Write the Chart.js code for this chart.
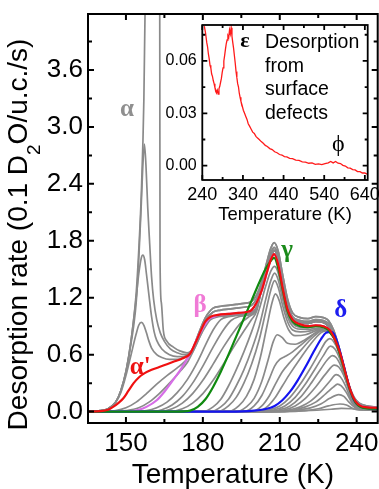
<!DOCTYPE html>
<html>
<head>
<meta charset="utf-8">
<script src="https://cdn.jsdelivr.net/npm/chart.js@4.4.1/dist/chart.umd.min.js"></script>
<style>
  html, body { margin: 0; padding: 0; background: #fff; }
  #wrap { position: relative; width: 379px; height: 489px; }
  #main { position: absolute; left: 0; top: 0; }
  #inset { position: absolute; left: 160px; top: 20px; }
</style>
</head>
<body>
<div id="wrap">
  <canvas id="main" width="379" height="489"></canvas>
  <canvas id="inset" width="219" height="210"></canvas>
</div>
<script>
// Tick values
const xTicks = [150, 180, 210, 240];
const xMinorTicks = [165, 195, 225];
const yTicks = [0, 0.6, 1.2, 1.8, 2.4, 3.0, 3.6];
const yMinorTicks = [0.3, 0.9, 1.5, 2.1, 2.7, 3.3, 3.9];

const insetXTicks = [240, 340, 440, 540, 640];
const insetXMinorTicks = [290, 390, 490, 590];
const insetYTicks = [0, 0.03, 0.06];
const insetYMinorTicks = [0.015, 0.045, 0.075];

// --- Main panel curves, [temperature K, rate] ---
// alpha family (multilayer peaks)
const alphaA = [[135,0],[140,0.01],[143,0.03],[146,0.1],[148,0.2],[150,0.38],[152,0.6],[154,0.82],[155,0.91],[156,0.94],[157,0.91],[158,0.83],[159,0.74],[160,0.67],[162,0.6],[164,0.57],[167,0.55],[170,0.55],[173,0.58]];
const alphaB = [[135,0],[140,0.01],[143,0.03],[146,0.1],[148,0.22],[150,0.42],[152,0.75],[154,1.2],[155,1.45],[156,1.62],[156.6,1.65],[157.3,1.6],[158,1.45],[159,1.22],[160,1.0],[161,0.84],[162,0.75],[164,0.66],[167,0.6],[170,0.58],[173,0.58]];
const alphaC = [[135,0],[140,0.01],[143,0.03],[146,0.1],[148,0.22],[150,0.42],[152,0.72],[153,0.9],[154,1.15],[155,1.6],[156,2.2],[156.7,2.65],[157.2,2.82],[157.8,2.6],[158.5,2.15],[159.2,1.8],[160,1.42],[160.8,1.18],[162,0.97],[163.4,0.83],[165,0.74],[167.3,0.66],[170,0.62],[173,0.6]];
const alphaD = [[135,0],[140,0.01],[143,0.03],[146,0.1],[148,0.22],[150,0.42],[152,0.75],[154,1.25],[155,1.7],[156,2.3],[157,3.3],[157.5,4.3],[158.5,5.2],[160,6.4],[162,7.6],[163,8.0],[163.3,1.6],[163.8,1.15],[164.6,0.85],[166,0.74],[168.5,0.68],[171,0.64],[173.8,0.62]];
const tailHi = [[176,0.66],[178,0.8],[181,0.99],[184,1.09],[187,1.11],[190,1.12],[193,1.13],[196,1.14],[199,1.16],[201,1.23],[203,1.37],[205,1.58],[206.5,1.72],[207.8,1.78],[209.5,1.68],[211,1.46],[213,1.19],[215,1.04],[218,0.99],[221,0.98],[224,1.0],[227,0.99],[229,0.96],[231,0.86],[233,0.69],[235,0.48],[237,0.28],[239,0.15],[241,0.09],[244,0.06],[248,0.045]];
const tailLo = [[176,0.64],[178,0.77],[181,0.96],[184,1.05],[187,1.07],[190,1.08],[193,1.09],[196,1.1],[199,1.12],[201,1.19],[203,1.33],[205,1.53],[206.5,1.67],[207.8,1.73],[209.5,1.63],[211,1.41],[213,1.14],[215,1.0],[218,0.96],[221,0.95],[224,0.97],[227,0.96],[229,0.93],[231,0.84],[233,0.67],[235,0.47],[237,0.27],[239,0.14],[241,0.08],[244,0.05],[248,0.04]];

// alpha' (red) and beta (magenta) share the plateau part
const alphaPrimeHead = [[135,0],[140,0.005],[143,0.02],[145,0.05],[147,0.09],[149,0.14],[151,0.22],[153,0.3],[155,0.36],[157,0.4],[160,0.44],[163,0.47],[166,0.5],[169,0.53],[172,0.56],[175,0.61],[177,0.72],[179,0.84],[181,0.95],[183,1.0]];
const betaHead = [[135,0],[150,0],[155,0.02],[158,0.05],[162,0.12],[165,0.21],[168,0.32],[171,0.43],[174,0.56],[176,0.66],[178,0.78],[180,0.88],[182.5,0.98],[184.5,1.0]];
const plateauTail = [[186,1.02],[190,1.03],[194,1.04],[197,1.05],[199,1.07],[201,1.15],[203,1.28],[205,1.47],[206.5,1.6],[207.8,1.66],[209.5,1.54],[211,1.32],[213,1.08],[215,0.97],[218,0.92],[221,0.9],[224,0.91],[227,0.9],[229.5,0.86],[231.5,0.76],[233.5,0.62],[235.5,0.42],[237.5,0.23],[239.5,0.11],[241.5,0.06],[244,0.045],[248,0.04]];

// gamma (green) and delta (blue)
const gammaHead = [[135,0],[170,0],[175,0.01],[178,0.05],[181,0.13],[184,0.26],[187,0.42],[190,0.6],[193,0.79],[196,0.98],[199,1.17],[202,1.36],[204,1.48],[206,1.57],[207.8,1.62],[209.5,1.5],[211,1.3],[213,1.06],[215,0.95],[218,0.9],[221,0.89],[224,0.9],[227,0.89],[229,0.86]];
const deltaCurve = [[135,0],[190,0],[200,0.01],[205,0.03],[208,0.06],[211,0.12],[214,0.21],[217,0.33],[220,0.47],[223,0.62],[226,0.76],[228,0.83],[230,0.84],[231.5,0.8],[233,0.68],[235,0.48],[237,0.27],[239,0.12],[241,0.06],[244,0.04],[248,0.03]];
const deltaTail = [[230,0.82],[231.5,0.76],[233.5,0.6],[235.5,0.41],[237.5,0.22],[239.5,0.1],[241.5,0.05],[244,0.035],[248,0.03]];

// gray curves rising into the beta plateau
const gTail = [[203,1.3],[205,1.5],[206.5,1.63],[207.8,1.7],[209.5,1.6],[211,1.38],[213,1.12],[215,0.99],[218,0.94],[221,0.93],[224,0.95],[227,0.94],[229,0.9],[231,0.82],[233,0.67],[235,0.47],[237,0.27],[239,0.13],[241,0.07],[244,0.05],[248,0.04]];
const grayBeta = [
  [[135,0],[140,0],[146,0.01],[150,0.04],[154,0.1],[158,0.19],[162,0.29],[166,0.38],[170,0.46],[173,0.53],[176,0.63],[179,0.8],[182,0.96],[185,1.0],[190,1.01],[195,1.03],[199,1.05],[201,1.1]],
  [[135,0],[145,0],[150,0.01],[155,0.04],[159,0.1],[163,0.19],[167,0.3],[171,0.42],[174,0.52],[177,0.68],[180,0.85],[183,0.97],[186,1.0],[190,1.01],[195,1.03],[199,1.05],[201,1.1]],
  [[135,0],[150,0],[158,0.01],[162,0.04],[166,0.1],[170,0.2],[174,0.34],[178,0.53],[181,0.7],[184,0.86],[187,0.97],[190,1.0],[195,1.02],[199,1.04],[201,1.1]],
  [[135,0],[160,0],[164,0.02],[168,0.07],[172,0.16],[176,0.3],[180,0.48],[184,0.68],[188,0.86],[191,0.96],[194,1.0],[199,1.03],[201,1.1]],
  [[135,0],[163,0],[168,0.03],[172,0.09],[176,0.19],[180,0.33],[184,0.5],[188,0.68],[192,0.84],[195,0.94],[198,1.0],[201,1.08]],
  [[135,0],[167,0],[172,0.03],[176,0.09],[180,0.19],[184,0.33],[188,0.5],[192,0.68],[196,0.85],[199,0.97],[201,1.06]]
];

// gray curves between gamma and delta
const grayGamma = [
  [[135,0],[180,0],[184,0.05],[187,0.13],[190,0.27],[193,0.44],[196,0.63],[199,0.84],[202,1.08],[204.5,1.32],[206.5,1.48],[208,1.53],[209.5,1.45],[211,1.25],[213,1.03],[215,0.93],[218,0.89],[222,0.89],[225,0.9],[228,0.87]],
  [[135,0],[183,0],[187,0.05],[190,0.13],[193,0.27],[196,0.44],[199,0.65],[202,0.9],[204.5,1.18],[206.5,1.38],[208,1.46],[209.5,1.38],[211,1.2],[213,1.0],[215,0.9],[218,0.87],[222,0.87],[225,0.88],[228,0.86]],
  [[135,0],[186,0],[190,0.06],[193,0.15],[196,0.3],[199,0.5],[202,0.76],[204.5,1.05],[206.5,1.28],[208,1.38],[209.5,1.3],[211,1.13],[213,0.95],[215,0.86],[218,0.84],[222,0.85],[225,0.87],[228,0.85]],
  [[135,0],[190,0],[194,0.06],[197,0.16],[200,0.34],[202.5,0.58],[205,0.9],[207,1.15],[208.3,1.24],[209.8,1.17],[211.5,1.0],[213.5,0.86],[216,0.8],[220,0.81],[224,0.85],[228,0.86]],
  [[135,0],[193,0],[197,0.05],[200,0.14],[203,0.32],[205.5,0.55],[207.5,0.74],[209,0.81],[211,0.78],[213,0.72],[216,0.71],[220,0.76],[224,0.83],[228,0.86]],
  [[135,0],[196,0],[200,0.06],[203,0.17],[206,0.35],[208,0.48],[210,0.55],[212,0.58],[215,0.63],[219,0.72],[223,0.81],[226,0.86],[228,0.86]],
  [[135,0],[199,0],[203,0.06],[206,0.17],[208.5,0.3],[211,0.42],[214,0.52],[218,0.64],[222,0.76],[226,0.85],[228,0.86]],
  [[135,0],[201,0],[205,0.05],[208,0.14],[211,0.27],[214,0.4],[218,0.56],[222,0.71],[226,0.83],[228,0.85]]
];

// gray curves below delta
const grayDelta = [
  [[135,0],[200,0],[206,0.02],[210,0.06],[214,0.15],[218,0.29],[222,0.46],[225,0.6],[228,0.74],[229.5,0.77],[231,0.74],[233,0.63],[235,0.45],[237,0.26],[239,0.11],[241,0.05],[244,0.035],[248,0.03]],
  [[135,0],[200,0],[208,0.02],[212,0.06],[216,0.15],[220,0.29],[224,0.46],[227,0.59],[229.8,0.69],[231.5,0.66],[233.5,0.55],[235.5,0.38],[237.5,0.2],[239.5,0.08],[241.5,0.04],[248,0.03]],
  [[135,0],[205,0],[210,0.02],[214,0.06],[218,0.15],[222,0.29],[226,0.45],[229,0.56],[230.5,0.59],[232,0.57],[234,0.47],[236,0.31],[238,0.15],[240,0.06],[242,0.035],[248,0.03]],
  [[135,0],[205,0],[212,0.02],[216,0.06],[220,0.14],[224,0.26],[228,0.4],[231.3,0.49],[233,0.47],[235,0.38],[237,0.23],[239,0.1],[241,0.04],[248,0.03]],
  [[135,0],[208,0],[214,0.02],[218,0.05],[222,0.11],[226,0.21],[229.5,0.32],[232,0.39],[233.5,0.37],[235.5,0.28],[237.5,0.15],[239.5,0.06],[242,0.03],[248,0.025]],
  [[135,0],[210,0],[216,0.02],[220,0.05],[224,0.1],[228,0.19],[231,0.26],[232.5,0.29],[234,0.27],[236,0.2],[238,0.1],[240,0.04],[243,0.025],[248,0.02]],
  [[135,0],[212,0],[218,0.02],[222,0.04],[226,0.08],[229.5,0.14],[233,0.18],[235,0.16],[237,0.1],[239,0.05],[241,0.02],[248,0.02]],
  [[135,0],[212,0],[220,0.01],[225,0.03],[229,0.06],[233.5,0.08],[236,0.07],[238,0.04],[240,0.02],[248,0.015]],
  [[135,0],[200,0.005],[220,0.01],[230,0.025],[234,0.035],[238,0.03],[242,0.02],[248,0.015]]
];

// --- Inset: surface defect desorption ---
const insetTemps = [245,248,251,253,255,257,259,261,263,265,267,269,271,273,275,277,279,281,283,285,287,289,291,293,295,297,299,301,303,305,307,309,311,313,315,317,319,321,323,325,327,329,331,333,335,338,341,344,347,350,353,356,360,364,368,372,376,380,385,390,395,400,406,412,418,424,430,436,442,448,455,462,470,478,486,494,502,510,518,526,534,542,550,556,562,568,574,580,586,592,598,604,610,616,622,628,634,640,645];
const insetRates = [0.0800,0.0760,0.0705,0.0680,0.0640,0.0612,0.0575,0.0560,0.0525,0.0512,0.0488,0.0470,0.0448,0.0435,0.0418,0.0432,0.0410,0.0440,0.0455,0.0478,0.0500,0.0535,0.0560,0.0600,0.0632,0.0668,0.0700,0.0720,0.0745,0.0735,0.0778,0.0755,0.0790,0.0742,0.0705,0.0672,0.0630,0.0588,0.0540,0.0505,0.0470,0.0452,0.0415,0.0392,0.0370,0.0345,0.0318,0.0300,0.0282,0.0265,0.0240,0.0228,0.0210,0.0192,0.0185,0.0168,0.0158,0.0150,0.0138,0.0128,0.0116,0.0110,0.0098,0.0092,0.0080,0.0074,0.0064,0.0061,0.0052,0.0050,0.0042,0.0040,0.0032,0.0030,0.0022,0.0021,0.0014,0.0016,0.0008,0.0010,0.0006,0.0012,0.0016,0.0024,0.0016,0.0024,0.0014,0.0012,0.0002,-0.0002,-0.0012,-0.0014,-0.0022,-0.0024,-0.0034,-0.0034,-0.0042,-0.0042,-0.0048];

// Labels (data coordinates)
const mainLabels = [
  { text: 'α', x: 150.4, y: 3.18, color: '#8f8f8f' },
  { text: "α'", x: 155.6, y: 0.46, color: '#ee1111' },
  { text: 'β', x: 178.9, y: 1.12, color: '#f07ad6' },
  { text: 'γ', x: 212.9, y: 1.70, color: '#1a8a1a' },
  { text: 'δ', x: 233.8, y: 1.07, color: '#1c1cf0' }
];
const insetNote = ['Desorption', 'from', 'surface', 'defects'];

Chart.defaults.font.family = "'Liberation Sans', Arial, sans-serif";
Chart.defaults.color = '#000';

const GRAY = '#8a8a8a';

function line(pairs, color, width, order) {
  return {
    data: pairs.map(([x, y]) => ({ x, y })),
    borderColor: color,
    borderWidth: width,
    pointRadius: 0,
    cubicInterpolationMode: 'monotone',
    order: order
  };
}

// Fix an axis box size and drop the label overhang padding
function fixBox(size) {
  return s => {
    if (s.isHorizontal()) s.height = size; else s.width = size;
    s.paddingLeft = 0; s.paddingRight = 0; s.paddingTop = 0; s.paddingBottom = 0;
  };
}

// Frame with inward ticks on all four sides
function frameTicks(xMajor, xMinor, yMajor, yMinor, majorLen, minorLen, width) {
  return {
    id: 'frameTicks',
    afterDraw(chart) {
      const { ctx, chartArea: a, scales: { x, y } } = chart;
      ctx.save();
      ctx.strokeStyle = '#000';
      ctx.lineWidth = width;
      ctx.beginPath();
      const xt = (vals, len) => vals.forEach(v => {
        const p = x.getPixelForValue(v);
        ctx.moveTo(p, a.bottom); ctx.lineTo(p, a.bottom - len);
        ctx.moveTo(p, a.top); ctx.lineTo(p, a.top + len);
      });
      const yt = (vals, len) => vals.forEach(v => {
        const p = y.getPixelForValue(v);
        ctx.moveTo(a.left, p); ctx.lineTo(a.left + len, p);
        ctx.moveTo(a.right, p); ctx.lineTo(a.right - len, p);
      });
      xt(xMajor, majorLen); xt(xMinor, minorLen);
      yt(yMajor, majorLen); yt(yMinor, minorLen);
      ctx.stroke();
      ctx.strokeRect(a.left, a.top, a.right - a.left, a.bottom - a.top);
      ctx.restore();
    }
  };
}

const greekLabels = {
  id: 'greekLabels',
  afterDraw(chart) {
    const { ctx, scales: { x, y } } = chart;
    ctx.save();
    ctx.font = "bold 25px 'Liberation Serif', serif";
    ctx.textAlign = 'center';
    ctx.textBaseline = 'middle';
    mainLabels.forEach(l => {
      ctx.fillStyle = l.color;
      ctx.fillText(l.text, x.getPixelForValue(l.x), y.getPixelForValue(l.y));
    });
    ctx.restore();
  }
};

// Y title with a real subscript
const yTitle = {
  id: 'yTitle',
  afterDraw(chart) {
    const { ctx, chartArea: a } = chart;
    const parts = [
      { t: 'Desorption rate (0.1 D', size: 28, dy: 0 },
      { t: '2', size: 19, dy: 16 },
      { t: 'O/u.c./s)', size: 28, dy: 0 }
    ];
    ctx.save();
    ctx.translate(19, (a.top + a.bottom) / 2 + 16);
    ctx.rotate(-Math.PI / 2);
    ctx.fillStyle = '#000';
    ctx.textBaseline = 'middle';
    ctx.textAlign = 'left';
    let total = 0;
    parts.forEach(p => {
      ctx.font = `${p.size}px 'Liberation Sans', Arial, sans-serif`;
      p.w = ctx.measureText(p.t).width;
      total += p.w;
    });
    let cx = -total / 2;
    parts.forEach(p => {
      ctx.font = `${p.size}px 'Liberation Sans', Arial, sans-serif`;
      ctx.fillText(p.t, cx, p.dy);
      cx += p.w;
    });
    ctx.restore();
  }
};

const insetText = {
  id: 'insetText',
  afterDraw(chart) {
    const { ctx, scales: { x, y } } = chart;
    ctx.save();
    ctx.fillStyle = '#000';
    ctx.textBaseline = 'middle';
    ctx.font = "bold 22px 'Liberation Serif', serif";
    ctx.textAlign = 'center';
    ctx.fillText('ε', x.getPixelForValue(345), y.getPixelForValue(0.0711));
    ctx.font = "24px 'Liberation Serif', serif";
    ctx.fillText('ϕ', x.getPixelForValue(574.6), y.getPixelForValue(0.0119));
    ctx.font = "19.5px 'Liberation Sans', Arial, sans-serif";
    ctx.textAlign = 'left';
    const left = x.getPixelForValue(394.3);
    const top = y.getPixelForValue(0.0706);
    insetNote.forEach((s, i) => ctx.fillText(s, left, top + i * 23.8));
    ctx.restore();
  }
};

// Build main datasets
const datasets = [
  line(alphaPrimeHead.concat(plateauTail), '#f01010', 2.2, 0),
  line(gammaHead.concat(deltaTail), '#108a10', 2.2, 1),
  line(deltaCurve, '#1414f0', 2.2, 2),
  line(betaHead.concat(plateauTail), '#d66ee6', 2.2, 3)
];
[alphaA.concat(tailHi), alphaB.concat(tailLo), alphaC.concat(tailLo), alphaD.concat(tailHi)]
  .forEach(c => datasets.push(line(c, GRAY, 1.7, 10)));
grayBeta.forEach(c => datasets.push(line(c.concat(gTail), GRAY, 1.7, 10)));
grayGamma.forEach(c => datasets.push(line(c.concat(deltaTail), GRAY, 1.7, 10)));
grayDelta.forEach(c => datasets.push(line(c, GRAY, 1.7, 10)));

new Chart(document.getElementById('main'), {
  type: 'line',
  data: { datasets },
  options: {
    responsive: false,
    animation: false,
    devicePixelRatio: 1,
    layout: { padding: { left: 0, right: 1.3, top: 14, bottom: 0 } },
    plugins: { legend: { display: false }, tooltip: { enabled: false } },
    scales: {
      x: {
        type: 'linear', min: 135.2, max: 248.2,
        grid: { display: false, drawTicks: false },
        border: { display: false },
        afterBuildTicks: s => { s.ticks = xTicks.map(v => ({ value: v })); },
        afterFit: fixBox(66),
        ticks: { font: { size: 26 }, padding: 5, color: '#000', callback: v => String(v) },
        title: { display: true, text: 'Temperature (K)', color: '#000', font: { size: 28, lineHeight: 1 }, padding: { top: 0, bottom: 0 } }
      },
      y: {
        type: 'linear', min: -0.12, max: 4.19,
        grid: { display: false, drawTicks: false },
        border: { display: false },
        afterBuildTicks: s => { s.ticks = yTicks.map(v => ({ value: v })); },
        afterFit: fixBox(88),
        ticks: { font: { size: 26 }, padding: 5, color: '#000', callback: v => v.toFixed(1) }
      }
    }
  },
  plugins: [frameTicks(xTicks, xMinorTicks, yTicks, yMinorTicks, 6, 4, 2), greekLabels, yTitle]
});

new Chart(document.getElementById('inset'), {
  type: 'line',
  data: {
    datasets: [{
      data: insetTemps.map((t, i) => ({ x: t, y: insetRates[i] })),
      borderColor: '#ff1a1a',
      borderWidth: 1.3,
      pointRadius: 0,
      tension: 0
    }]
  },
  options: {
    responsive: false,
    animation: false,
    devicePixelRatio: 1,
    layout: { padding: { left: 0, right: 11.3, top: 5, bottom: 0 } },
    plugins: { legend: { display: false }, tooltip: { enabled: false } },
    scales: {
      x: {
        type: 'linear', min: 240, max: 647,
        grid: { display: false, drawTicks: false },
        border: { display: false },
        afterBuildTicks: s => { s.ticks = insetXTicks.map(v => ({ value: v })); },
        afterFit: fixBox(50),
        ticks: { font: { size: 18 }, padding: 4, color: '#000', callback: v => String(v) },
        title: { display: true, text: 'Temperature (K)', color: '#000', font: { size: 18.5, lineHeight: 1 }, padding: { top: 0, bottom: 6 } }
      },
      y: {
        type: 'linear', min: -0.0082, max: 0.0806,
        grid: { display: false, drawTicks: false },
        border: { display: false },
        afterBuildTicks: s => { s.ticks = insetYTicks.map(v => ({ value: v })); },
        afterFit: fixBox(42.3),
        ticks: { font: { size: 16 }, padding: 5.6, color: '#000', callback: v => v.toFixed(2) }
      }
    }
  },
  plugins: [frameTicks(insetXTicks, insetXMinorTicks, insetYTicks, insetYMinorTicks, 5, 3, 1.8), insetText]
});
</script>
</body>
</html>
